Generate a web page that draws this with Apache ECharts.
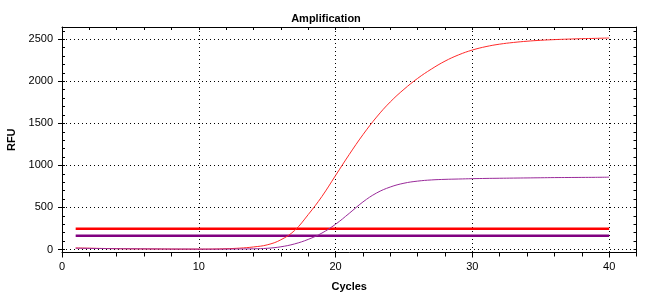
<!DOCTYPE html>
<html>
<head>
<meta charset="utf-8">
<script src="https://cdn.jsdelivr.net/npm/echarts@6.0.0/dist/echarts.min.js"></script>
<style>
	html, body { margin: 0; padding: 0; background: #fff; }
	#chart { width: 652px; height: 300px; }
</style>
</head>
<body>
<div id="chart"></div>
<script>
	// cycles 1..40
	var cycles = [];
	for (var i = 1; i <= 40; i++) cycles.push(i);

	// RFU
	var redRfu = [18, 15, 12, 10, 8, 7, 6, 5, 4, 4,
		5, 9, 16, 30, 55, 115, 225, 415, 630, 880,
		1130, 1365, 1575, 1755, 1905, 2035, 2145, 2240, 2315, 2372,
		2413, 2442, 2462, 2477, 2488, 2496, 2502, 2507, 2511, 2515];
	var purpleRfu = [15, 13, 11, 9, 8, 7, 6, 5, 5, 4,
		4, 5, 6, 8, 14, 32, 66, 120, 195, 300,
		430, 565, 672, 743, 788, 813, 827, 834, 838, 842,
		845, 847, 849, 851, 853, 855, 856, 857, 858, 860];

	// threshold lines
	var redThreshold = 245;
	var purpleThreshold = 162;
	var thresholdRange = [1, 40];

	// tick labels
	var xMajor = [0, 10, 20, 30, 40];
	var yMajor = [0, 500, 1000, 1500, 2000, 2500];

	var xMinor = [], yMinor = [];
	for (var x = 2; x <= 42; x += 2) xMinor.push(x);
	for (var y = 0; y <= 2600; y += 100) yMinor.push(y);

	var font = 'Liberation Sans, Arial, sans-serif';
	var X_MIN = 0, X_MAX = 42, Y_MIN = -36, Y_MAX = 2646;

	function pairs(xs, ys) {
		return xs.map(function (c, k) { return [c, ys[k]]; });
	}

	function hLine(name, val, color) {
		return {
			name: name,
			type: 'line',
			xAxisIndex: 0,
			yAxisIndex: 0,
			symbol: 'none',
			lineStyle: { color: color, width: 2.5 },
			data: [[thresholdRange[0], val], [thresholdRange[1], val]],
			z: 3
		};
	}

	function curve(name, ys, color) {
		return {
			name: name,
			type: 'line',
			xAxisIndex: 0,
			yAxisIndex: 0,
			symbol: 'none',
			smooth: 0.4,
			lineStyle: { color: color, width: 1 },
			data: pairs(cycles, ys),
			z: 4
		};
	}

	// extra axes only draw the minor ticks / the box frame
	function plainAxis(pos, min, max, ticks, inside, len, showLine) {
		return {
			type: 'value',
			position: pos,
			min: min,
			max: max,
			axisLine: { show: showLine, onZero: false, lineStyle: { color: '#000', width: 1 } },
			axisTick: { show: true, inside: inside, length: len, customValues: ticks, lineStyle: { color: '#000' } },
			axisLabel: { show: false },
			splitLine: { show: false }
		};
	}

	var chart = echarts.init(document.getElementById('chart'), null, { renderer: 'canvas' });

	chart.setOption({
		animation: false,
		backgroundColor: '#fff',
		textStyle: { fontFamily: font },
		title: {
			text: 'Amplification',
			left: 'center',
			top: 8,
			textStyle: { fontSize: 11, fontWeight: 'bold', color: '#000', fontFamily: font }
		},
		grid: {
			left: 62,
			right: 15.5,
			top: 27,
			bottom: 47.5,
			containLabel: false,
			outerBoundsMode: 'none'
		},
		xAxis: [{
			type: 'value',
			position: 'bottom',
			min: X_MIN,
			max: X_MAX,
			name: 'Cycles',
			nameLocation: 'middle',
			nameGap: 29,
			nameTextStyle: { fontSize: 11, fontWeight: 'bold', color: '#000', fontFamily: font },
			axisLine: { onZero: false, lineStyle: { color: '#000', width: 1 } },
			axisTick: { length: 5, customValues: xMajor, lineStyle: { color: '#000' } },
			axisLabel: { customValues: xMajor, color: '#000', fontSize: 11, margin: 9, fontFamily: font },
			splitLine: { show: true, lineStyle: { color: '#000', type: [1, 3], width: 1 } }
		},
			plainAxis('bottom', X_MIN, X_MAX, xMinor, false, 4, false),
			plainAxis('top', X_MIN, X_MAX, xMinor, true, 3, true)
		],
		yAxis: [{
			type: 'value',
			position: 'left',
			min: Y_MIN,
			max: Y_MAX,
			name: 'RFU',
			nameLocation: 'middle',
			nameGap: 43,
			nameTextStyle: { fontSize: 11, fontWeight: 'bold', color: '#000', fontFamily: font },
			axisLine: { show: true, onZero: false, lineStyle: { color: '#000', width: 1 } },
			axisTick: { length: 4, customValues: yMajor, lineStyle: { color: '#000' } },
			axisLabel: {
				customValues: yMajor, color: '#000', fontSize: 11, margin: 9, fontFamily: font,
				formatter: function (v) { return String(v); }
			},
			splitLine: { show: true, lineStyle: { color: '#000', type: [1, 3], width: 1 } }
		},
			plainAxis('left', Y_MIN, Y_MAX, yMinor, true, 3, false),
			plainAxis('right', Y_MIN, Y_MAX, yMinor, true, 3, true)
		],
		series: [
			hLine('Threshold 1', redThreshold, '#ff0000'),
			hLine('Threshold 2', purpleThreshold, '#800080'),
			curve('Sample 1', redRfu, '#ff2a2a'),
			curve('Sample 2', purpleRfu, '#9a2a9a')
		]
	});
</script>
</body>
</html>
